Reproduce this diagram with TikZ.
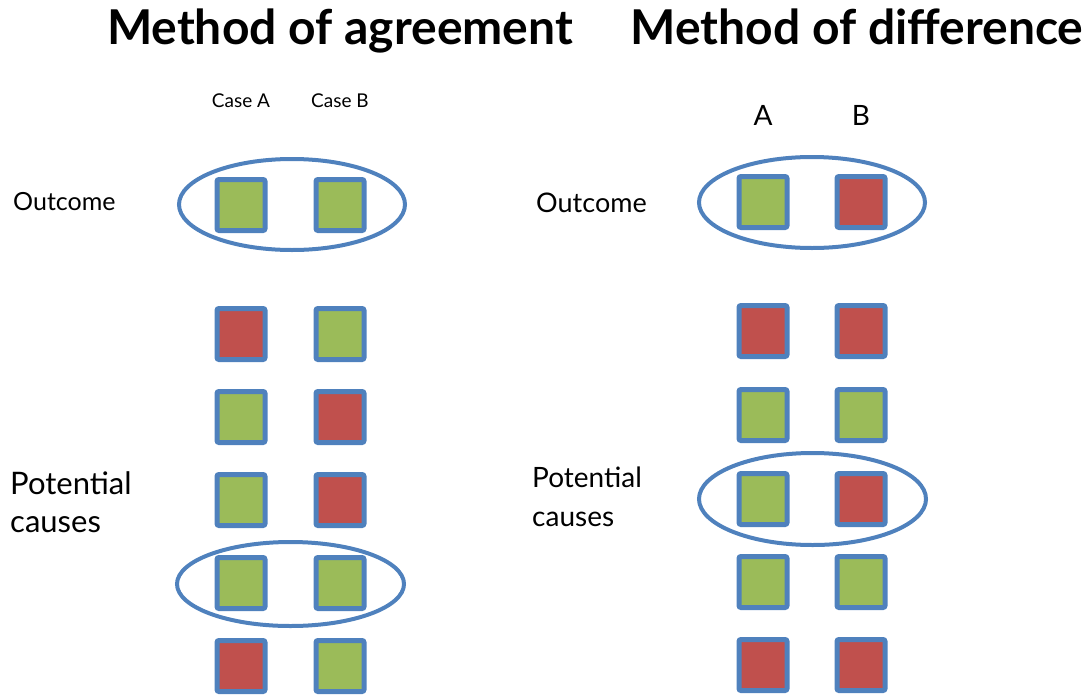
\documentclass[tikz,border=0pt]{standalone}
\usepackage{fontspec}
\setmainfont{Lato}
\usetikzlibrary{positioning, shapes.geometric}
\definecolor{boxgreen}{RGB}{155,187,89}
\definecolor{boxred}{RGB}{192,80,77}
\definecolor{ringblue}{RGB}{79,129,189}

\begin{document}
\begin{tikzpicture}[x=1pt, y=-1pt,
		cell/.style={draw=ringblue, line width=5pt, rounded corners=2pt, minimum width=48pt, minimum height=51pt, inner sep=0pt},
		ring/.style={draw=ringblue, line width=4pt, ellipse, inner sep=0pt},
		heading/.style={anchor=base, font=\fontsize{48}{52}\selectfont\bfseries},
		rowtext/.style={anchor=west, align=left, inner sep=0pt}]
		\useasboundingbox (0,0) rectangle (1091,699);
		
		\node[heading] (tagree) at (340,44) {Method of agreement};
		\node[heading] (tdiff) at (857,44) {Method of difference};
		
		\foreach \y/\ca/\cb [count=\i] in {205/boxgreen/boxgreen, 334/boxred/boxgreen, 417/boxgreen/boxred, 500/boxgreen/boxred, 583/boxgreen/boxgreen, 666/boxred/boxgreen}{
			\node[cell, fill=\ca] (la\i) at (241,\y) {};
			\node[cell, fill=\cb] (lb\i) at (340,\y) {};
		}
		\foreach \y/\ca/\cb [count=\i] in {202/boxgreen/boxred, 331/boxred/boxred, 415/boxgreen/boxgreen, 499/boxgreen/boxred, 582/boxgreen/boxgreen, 665/boxred/boxred}{
			\node[cell, fill=\ca] (ra\i) at (763,\y) {};
			\node[cell, fill=\cb] (rb\i) at (861,\y) {};
		}
		
		\node[ring, minimum width=226pt, minimum height=91pt] (lout) at (292,204.5) {};
		\node[ring, minimum width=227pt, minimum height=84pt] (lcause) at (290.5,584) {};
		\node[ring, minimum width=226pt, minimum height=91pt] (rout) at (812,202.5) {};
		\node[ring, minimum width=227pt, minimum height=92pt] (rcause) at (812.5,499) {};
		
		\node[font=\fontsize{19}{22}\selectfont] (casea) at (241,101) {Case A};
		\node[font=\fontsize{19}{22}\selectfont] (caseb) at (340,101) {Case B};
		\node[font=\fontsize{28}{30}\selectfont] (capa) at (763,115) {A};
		\node[font=\fontsize{28}{30}\selectfont] (capb) at (861,115) {B};
		
		\node[rowtext, font=\fontsize{25}{30}\selectfont] (lwhat) at (13,202) {Outcome};
		\node[rowtext, font=\fontsize{31}{38}\selectfont] (lwhy) at (10,502) {Potential\\causes};
		\node[rowtext, font=\fontsize{27}{30}\selectfont] (rwhat) at (536,203) {Outcome};
		\node[rowtext, font=\fontsize{28}{39}\selectfont] (rwhy) at (532,497) {Potential\\causes};
		
	\end{tikzpicture}
\end{document}
